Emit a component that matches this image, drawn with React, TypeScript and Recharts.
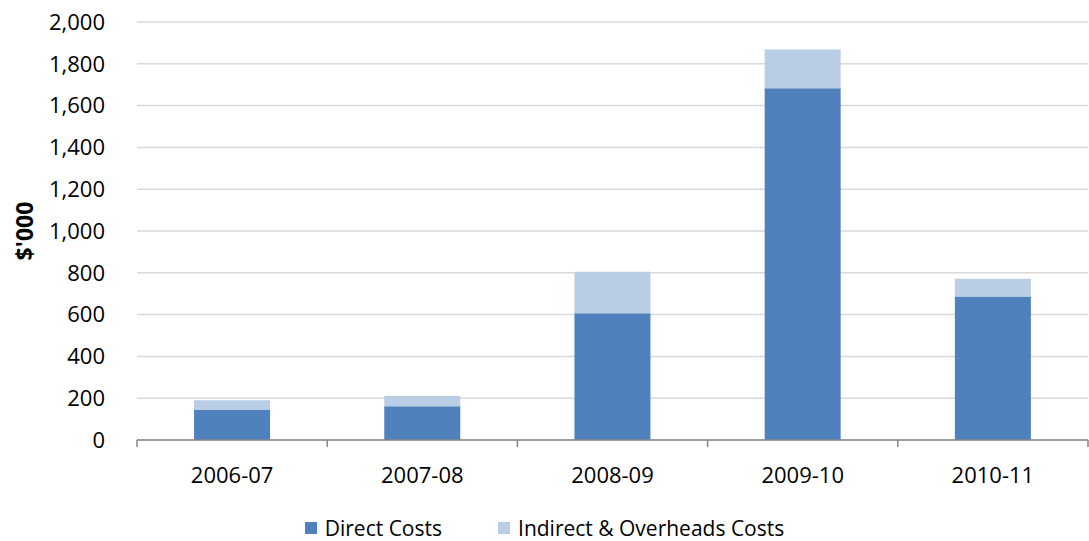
import React from 'react';
import {
  BarChart,
  Bar,
  XAxis,
  YAxis,
  CartesianGrid,
  Legend,
} from 'recharts';

// 年度と費用（$'000）
const years = ['2006-07', '2007-08', '2008-09', '2009-10', '2010-11'];
const directCosts = [143, 162, 606, 1683, 687];
const indirectCosts = [47, 48, 199, 185, 84];
const yTicks = [0, 200, 400, 600, 800, 1000, 1200, 1400, 1600, 1800, 2000];

const COLORS = {
  direct: '#4f81bd',
  indirect: '#b9cde5',
};

const FONT = '"Open Sans", "Liberation Sans", sans-serif';

const data = years.map((year, i) => ({
  year,
  idx: i + 0.5,
  direct: directCosts[i],
  indirect: indirectCosts[i],
}));

const fmt = (v: number) => v.toLocaleString('en-US');

// 目盛り線だけ描き、ラベルは出さない
const NoLabel = () => <g />;

const renderLegend = (props: any) => {
  const { payload } = props;
  return (
    <div style={{ display: 'flex', justifyContent: 'center', fontFamily: FONT, fontSize: 21, color: '#000' }}>
      {payload.map((entry: any, i: number) => (
        <div key={i} style={{ display: 'flex', alignItems: 'center', marginLeft: i === 0 ? 0 : 56 }}>
          <span style={{ width: 12, height: 12, background: entry.color, display: 'inline-block', marginRight: 8 }} />
          <span>{entry.value}</span>
        </div>
      ))}
    </div>
  );
};

const YLabel = (props: any) => {
  const vb = props.viewBox;
  const cy = vb.y + vb.height / 2;
  return (
    <text
      x={33}
      y={cy}
      transform={`rotate(-90, 33, ${cy})`}
      textAnchor="middle"
      fontFamily={FONT}
      fontSize={23}
      fontWeight="bold"
      fill="#000"
    >
      $'000
    </text>
  );
};

export default function App() {
  return (
    <div style={{ position: 'absolute', left: 0, top: 0, background: '#fff' }}>
      <BarChart
        width={1089}
        height={541}
        data={data}
        margin={{ top: 22, right: 1, left: 0, bottom: 42 }}
        barCategoryGap="30%"
      >
        <CartesianGrid xAxisId="b" vertical={false} stroke="#d9d9d9" strokeWidth={1.5} />
        {/* 区切り目盛り用の軸 */}
        <XAxis
          xAxisId="a"
          type="number"
          dataKey="idx"
          domain={[0, 5]}
          ticks={[0, 1, 2, 3, 4, 5]}
          tick={NoLabel}
          tickLine={{ stroke: '#868686', strokeWidth: 1.5 }}
          tickSize={7}
          stroke="#868686"
          strokeWidth={1.5}
          height={1}
        />
        <XAxis
          xAxisId="b"
          dataKey="year"
          axisLine={false}
          tickLine={false}
          tickSize={0}
          tickMargin={26}
          tick={{ fill: '#000', fontSize: 22, fontFamily: FONT }}
          interval={0}
          height={30}
        />
        <YAxis
          width={137}
          domain={[0, 2000]}
          ticks={yTicks}
          axisLine={false}
          tickLine={false}
          tickSize={0}
          tickMargin={32}
          tickFormatter={fmt}
          tick={{ fill: '#000', fontSize: 22, fontFamily: FONT }}
          label={<YLabel />}
        />
        <Legend
          content={renderLegend}
          wrapperStyle={{ position: 'absolute', top: 514, left: 0, width: 1089 }}
        />
        <Bar
          xAxisId="b"
          dataKey="direct"
          name="Direct Costs"
          stackId="a"
          fill={COLORS.direct}
          isAnimationActive={false}
        />
        <Bar
          xAxisId="b"
          dataKey="indirect"
          name="Indirect & Overheads Costs"
          stackId="a"
          fill={COLORS.indirect}
          isAnimationActive={false}
        />
      </BarChart>
    </div>
  );
}
